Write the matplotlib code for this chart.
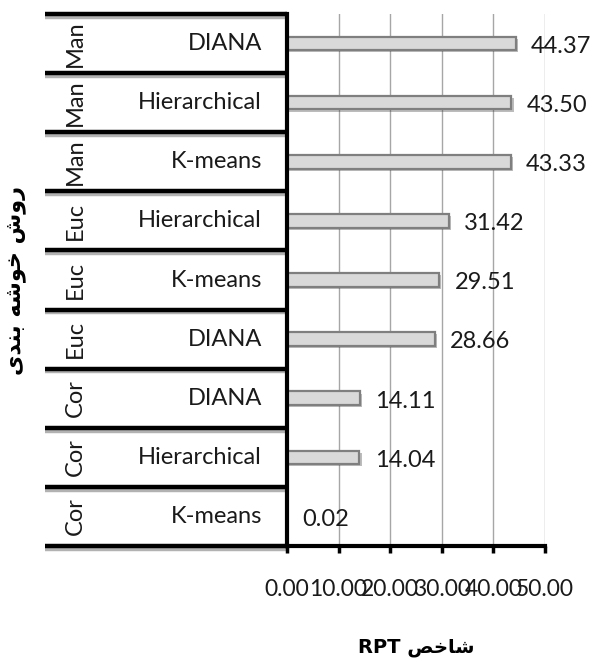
import matplotlib
matplotlib.use("Agg")
import matplotlib.pyplot as plt
import matplotlib.patheffects as pe
from matplotlib.transforms import blended_transform_factory

# داده‌ها (از بالا به پایین)
groups = ["Man", "Man", "Man", "Euc", "Euc", "Euc", "Cor", "Cor", "Cor"]
methods = ["DIANA", "Hierarchical", "K-means", "Hierarchical", "K-means",
           "DIANA", "DIANA", "Hierarchical", "K-means"]
rpt = [44.37, 43.50, 43.33, 31.42, 29.51, 28.66, 14.11, 14.04, 0.02]
xticks = [0, 10, 20, 30, 40, 50]

# متن فارسی به صورت شکل‌های ارائه (چون matplotlib شکل‌دهی عربی ندارد)
ylabel_fa = "\uFEEF\uFEAA\uFEE8\uFE91 \uFEEA\uFEB7\uFEEE\uFEA7 \uFEB5\uFEED\uFEAD"
xlabel_fa = "RPT \uFEBA\uFEA7\uFE8E\uFEB7"

plt.rcParams["font.family"] = ["Lato", "DejaVu Sans"]
TXT = "#1a1a1a"

fig = plt.figure(figsize=(5.93, 6.62), dpi=100)
ax = fig.add_axes([0.484, 0.1752, 0.435, 0.8036])

y = list(range(len(rpt)))
bars = ax.barh(y, rpt, height=0.23, color="#d9d9d9", edgecolor="#7f7f7f",
               linewidth=1.6, zorder=3)
for b in bars:
    b.set_path_effects([pe.SimplePatchShadow(offset=(1.5, -1.5), alpha=0.35),
                        pe.Normal()])

for yi, v in zip(y, rpt):
    ax.annotate(f"{v:.2f}", (v, yi), xytext=(11, -2), textcoords="offset points",
                ha="left", va="center", fontsize=17, color=TXT, zorder=4)

ax.set_xlim(0, 50)
ax.set_ylim(len(rpt) - 0.5, -0.5)
ax.set_xticks(xticks)
ax.set_xticklabels([f"{t:.2f}" for t in xticks], fontsize=16.5, color=TXT)
ax.set_yticks([])
ax.tick_params(axis="x", direction="out", length=5, width=2.5, pad=19)
ax.grid(axis="x", color="#a6a6a6", linewidth=1.0, zorder=0)

for side in ["top", "right"]:
    ax.spines[side].set_visible(False)
ax.spines["left"].set_linewidth(3)
ax.spines["bottom"].set_linewidth(3)
ax.spines["left"].set_zorder(5)
ax.spines["bottom"].set_zorder(5)

# محور دسته‌بندی دو سطحی
trans = blended_transform_factory(ax.transAxes, ax.transData)
shadow = [pe.SimpleLineShadow(offset=(0, -2), alpha=0.3), pe.Normal()]
for k in range(len(rpt) + 1):
    ax.plot([-0.938, 0], [k - 0.5, k - 0.5], transform=trans, color="black",
            linewidth=3.2, clip_on=False, solid_capstyle="butt",
            path_effects=shadow, zorder=6)
for yi, g, m in zip(y, groups, methods):
    ax.text(-0.822, yi, g, transform=trans, rotation=90, ha="center",
            va="center", fontsize=17, color=TXT)
    ax.text(-0.097, yi, m, transform=trans, ha="right", va="center",
            fontsize=17, color=TXT)

ax.text(-1.05, 0.5, ylabel_fa, transform=ax.transAxes, rotation=90,
        ha="center", va="center", fontsize=16, fontweight="bold",
        family=["DejaVu Sans"])
ax.text(0.5, -0.19, xlabel_fa, transform=ax.transAxes, ha="center",
        va="center", fontsize=14, fontweight="bold", family=["DejaVu Sans"])

fig.savefig("out.png", dpi=100)
